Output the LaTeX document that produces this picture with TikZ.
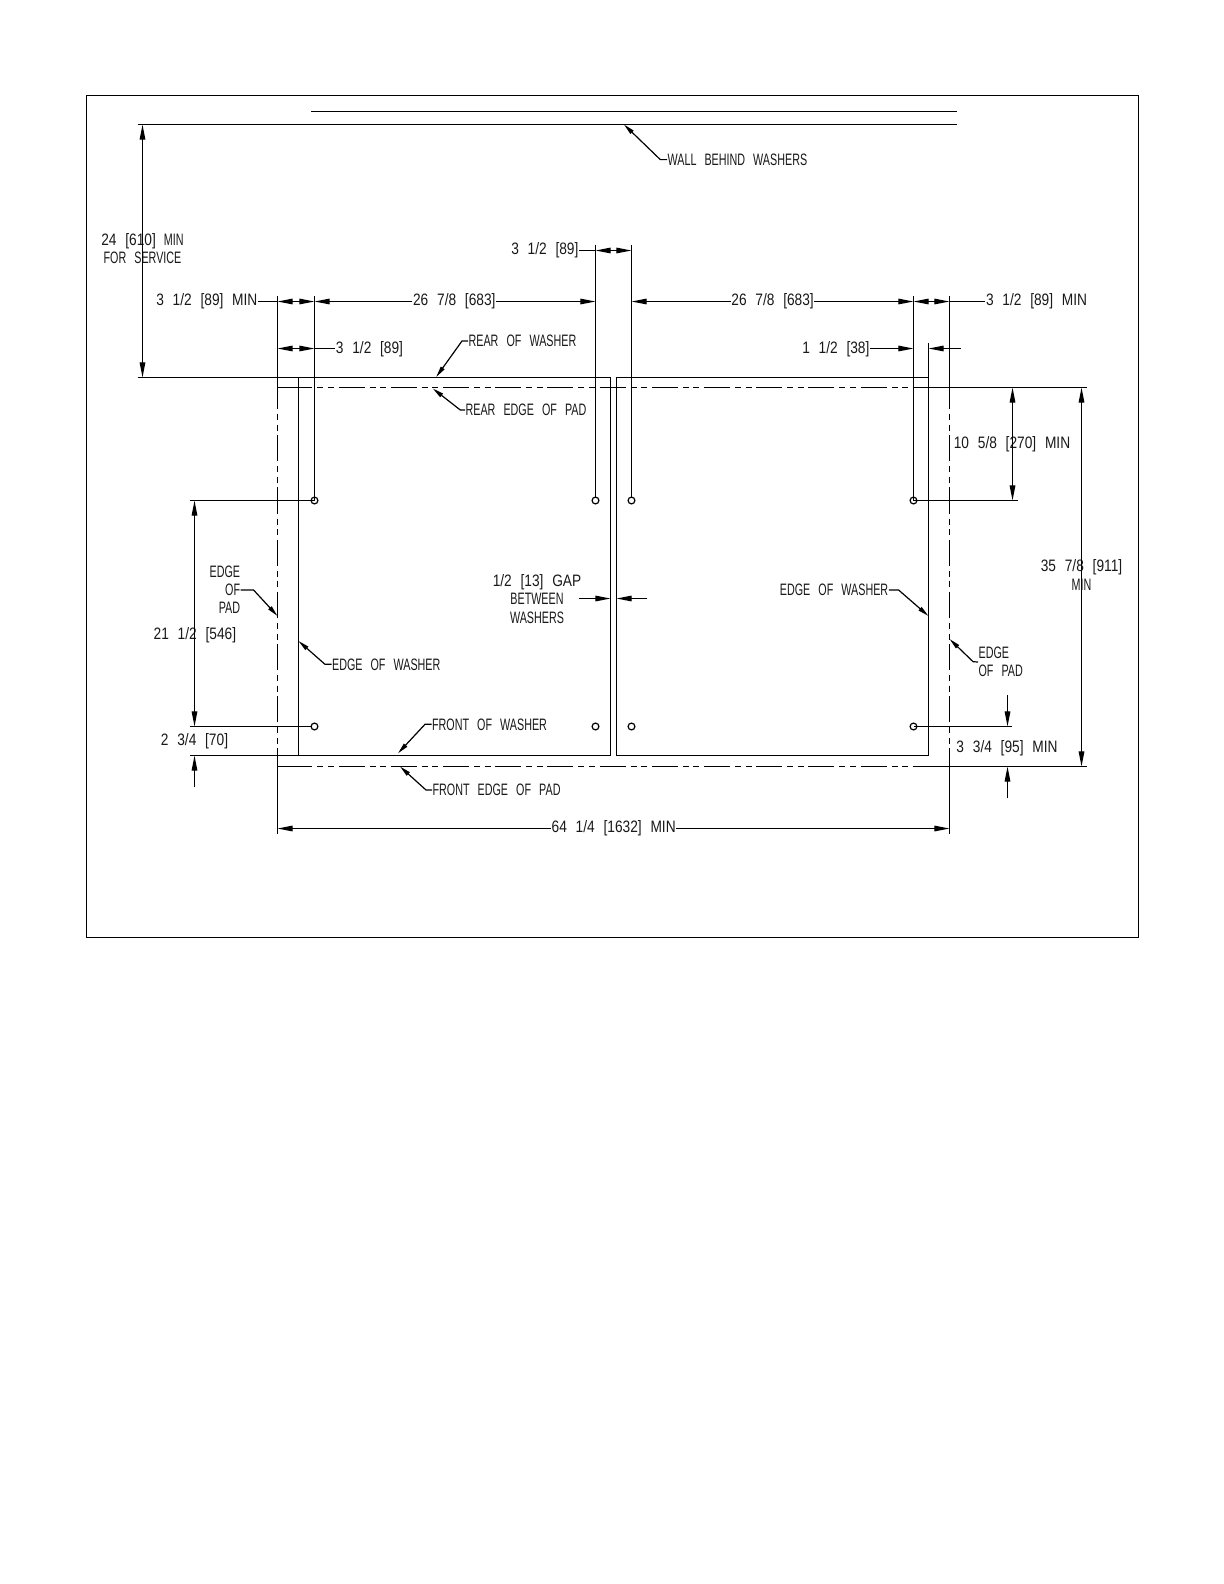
\documentclass[tikz,border=0pt]{standalone}
\usepackage{fontspec}
\setmainfont[FakeStretch=0.65,WordSpace=2.7]{Liberation Sans}
\newfontfamily\dimf[FakeStretch=0.83,WordSpace=2.3]{Liberation Sans}
\usetikzlibrary{arrows.meta}
\tikzset{
    lblm/.style = {inner sep = 0, text = black!90, align = center,
        font = \fontsize{8.3}{9.1}\selectfont},
    lbl/.style = {lblm, text height = 5.9bp, text depth = 0pt},
    dim/.style = {{Triangle[length = 7.6bp, width = 2.8bp]}-{Triangle[length = 7.6bp, width = 2.8bp]}},
    dimend/.style = {-{Triangle[length = 7.6bp, width = 2.8bp]}},
    lead/.style = {{Triangle[length = 5.6bp, width = 2.2bp]}-},
    padline/.style = {dash pattern = on 13.05bp off 2.5bp on 3bp off 2.3bp on 3bp off 2.25bp},
    hole/.style = {draw, circle, inner sep = 0, minimum size = 3.4bp}
}
\begin{document}
\begin{tikzpicture}[x = 0.5bp, y = -0.5bp, line width = 0.6bp]
    \useasboundingbox (0,0) rectangle (1224,1584);
    \draw (86.5,95.5) rectangle (1138.5,937.5);
    % wall
    \coordinate (wallA) at (311,111.5);
    \coordinate (wallB) at (957,111.5);
    \coordinate (wallC) at (137.5,124.5);
    \coordinate (wallD) at (957,124.5);
    \draw (wallA) -- (wallB);
    \draw (wallC) -- (wallD);
    % washers
    \coordinate (rearL) at (137.5,377.5);
    \coordinate (frontL) at (189.5,755.5);
    \coordinate (washAa) at (298.5,377.5);
    \coordinate (washAb) at (610.5,377.5);
    \coordinate (washAc) at (610.5,755.5);
    \coordinate (washAd) at (298.5,755.5);
    \coordinate (washBa) at (616.5,377.5);
    \coordinate (washBb) at (928.5,377.5);
    \coordinate (washBc) at (928.5,755.5);
    \coordinate (washBd) at (616.5,755.5);
    \coordinate (washBt) at (928.5,343);
    \draw (rearL) -- (washAb) -- (washAc) -- (frontL);
    \draw (washAa) -- (washAd);
    \draw (washBt) -- (washBc) -- (washBd) -- (washBa) -- (washBb);
    % pad
    \foreach \py in {387.5, 766.5} {
        \draw (277.5,\py) -- (290,\py);
        \draw [padline] (286.3,\py) -- (913.3,\py);
        \draw (913.3,\py) -- (1086.5,\py);
    }
    \foreach \px in {277.5, 949.5} {
        \draw (\px,296) -- (\px,386);
        \draw [padline] (\px,383) -- (\px,748.4);
        \draw (\px,748.4) -- (\px,833.5);
    }
    % holes
    \foreach \hn/\hx in {a/314.5, b/595.5, c/631.5, d/913.5} {
        \node [hole] (\hn T) at (\hx,500.5) {};
        \node [hole] (\hn B) at (\hx,726.5) {};
    }
    \coordinate (extA) at (314.5,296);
    \coordinate (extB) at (595.5,244.5);
    \coordinate (extC) at (631.5,244.5);
    \coordinate (extD) at (913.5,296);
    \draw (extA) -- (aT.center);
    \draw (extB) -- (bT.north);
    \draw (extC) -- (cT.north);
    \draw (extD) -- (dT.center);
    \coordinate (leftT) at (189.5,500.5);
    \coordinate (leftB) at (189.5,726.5);
    \coordinate (rightT) at (1017.5,500.5);
    \coordinate (rightB) at (1012,726.5);
    \draw (leftT) -- (aT.center);
    \draw (leftB) -- (aB.west);
    \draw (dT.center) -- (rightT);
    \draw (dB.center) -- (rightB);
    % service depth
    \node [lblm] (service) at (142.5,249) {{\dimf 24 [610]} MIN\\FOR SERVICE};
    \draw [dim] (142.5,124.5) -- (142.5,377.5);
    % top row
    \node [lbl, anchor = east] (minL) at (258,300) {\dimf 3 1/2 [89] MIN};
    \draw [dim] (277.5,301.5) -- (314.5,301.5);
    \draw (minL.east |- 0,301.5) -- (277.5,301.5);
    \node [lbl] (spanL) at (454.3,300) {\dimf 26 7/8 [683]};
    \draw [dimend] (spanL.west |- 0,301.5) -- (314.5,301.5);
    \draw [dimend] (spanL.east |- 0,301.5) -- (595.5,301.5);
    \node [lbl, anchor = east] (gapTop) at (579,249) {\dimf 3 1/2 [89]};
    \draw [dim] (595.5,250.5) -- (631.5,250.5);
    \draw (gapTop.east |- 0,250.5) -- (595.5,250.5);
    \node [lbl] (spanR) at (772.6,300) {\dimf 26 7/8 [683]};
    \draw [dimend] (spanR.west |- 0,301.5) -- (631.5,301.5);
    \draw [dimend] (spanR.east |- 0,301.5) -- (913.5,301.5);
    \draw [dim] (913.5,301.5) -- (949.5,301.5);
    \node [lbl, anchor = west] (minR) at (985.4,300) {\dimf 3 1/2 [89] MIN};
    \draw (949.5,301.5) -- (minR.west |- 0,301.5);
    % second row
    \draw [dim] (277.5,348.5) -- (314.5,348.5);
    \node [lbl, anchor = west] (holeL) at (335.3,347.5) {\dimf 3 1/2 [89]};
    \draw (314.5,348.5) -- (holeL.west |- 0,348.5);
    \node [lbl, anchor = east] (sideR) at (870,347.5) {\dimf 1 1/2 [38]};
    \draw [dimend] (sideR.east |- 0,348.5) -- (913.5,348.5);
    \coordinate (sideRend) at (960.8,348.5);
    \draw [dimend] (sideRend) -- (928.5,348.5);
    % leaders
    \node [lbl, anchor = west] (wall) at (667,159.6) {WALL BEHIND WASHERS};
    \coordinate (wallTip) at (624,124.5);
    \draw [lead] (wallTip) -- (660.3,159.6) -- (wall.west);
    \node [lbl, anchor = west] (rearWash) at (468,341) {REAR OF WASHER};
    \coordinate (rearWashTip) at (436.2,377);
    \draw [lead] (rearWashTip) -- (462,341) -- (rearWash.west);
    \node [lbl, anchor = west] (rearPad) at (465,410) {REAR EDGE OF PAD};
    \coordinate (rearPadTip) at (432.8,388.5);
    \draw [lead] (rearPadTip) -- (460.3,410) -- (rearPad.west);
    \node [lblm, anchor = east, align = right] (padEdgeL) at (240.7,590) {EDGE\\OF\\PAD};
    \coordinate (padEdgeLTip) at (277.5,616);
    \draw [lead] (padEdgeLTip) -- (253.6,590) -- (padEdgeL.east);
    \node [lbl, anchor = west] (washEdgeL) at (331.5,664.3) {EDGE OF WASHER};
    \coordinate (washEdgeLTip) at (298.5,641);
    \draw [lead] (washEdgeLTip) -- (325,664.3) -- (washEdgeL.west);
    \node [lbl, anchor = west] (frontWash) at (431.5,724.3) {FRONT OF WASHER};
    \coordinate (frontWashTip) at (398,753.3);
    \draw [lead] (frontWashTip) -- (425,724.3) -- (frontWash.west);
    \node [lbl, anchor = west] (frontPad) at (432,790) {FRONT EDGE OF PAD};
    \coordinate (frontPadTip) at (400,766.5);
    \draw [lead] (frontPadTip) -- (426,790) -- (frontPad.west);
    \node [lbl, anchor = east] (washEdgeR) at (888.8,590) {EDGE OF WASHER};
    \coordinate (washEdgeRTip) at (928.5,616);
    \draw [lead] (washEdgeRTip) -- (898.6,590) -- (washEdgeR.east);
    \node [lblm, anchor = west, align = left] (padEdgeR) at (978,662) {EDGE\\OF PAD};
    \coordinate (padEdgeRTip) at (949.5,639);
    \draw [lead] (padEdgeRTip) -- (973.1,661.7) -- (padEdgeR.west);
    % gap
    \node [lblm] (gap) at (537,599) {{\dimf 1/2 [13] GAP}\\BETWEEN\\WASHERS};
    \coordinate (gapL) at (579,598.5);
    \coordinate (gapR) at (647.3,598.5);
    \draw [dimend] (gapL) -- (610.5,598.5);
    \draw [dimend] (gapR) -- (616.5,598.5);
    % left dimensions
    \node [lbl] (holeSpan) at (194.9,634) {\dimf 21 1/2 [546]};
    \draw [dim] (194.5,500.5) -- (194.5,726.5);
    \node [lbl] (holeFront) at (194.5,740) {\dimf 2 3/4 [70]};
    \coordinate (holeFrontEnd) at (194.5,787);
    \draw [dimend] (holeFrontEnd) -- (194.5,755.5);
    % right dimensions
    \node [lbl] (rearHole) at (1012,442.3) {\dimf 10 5/8 [270] MIN};
    \draw [dim] (1012.5,387.5) -- (1012.5,500.5);
    \node [lblm] (padDepth) at (1081.5,575) {{\dimf 35 7/8 [911]}\\MIN};
    \draw [dim] (1081.5,387.5) -- (1081.5,766.5);
    \node [lbl] (frontHole) at (1007,746.7) {\dimf 3 3/4 [95] MIN};
    \coordinate (frontHoleT) at (1007.5,695);
    \coordinate (frontHoleB) at (1007.5,798);
    \draw [dimend] (frontHoleT) -- (1007.5,726.5);
    \draw [dimend] (frontHoleB) -- (1007.5,766.5);
    % overall width
    \node [lbl] (overall) at (613.7,827) {\dimf 64 1/4 [1632] MIN};
    \draw [dimend] (overall.west |- 0,828.5) -- (277.5,828.5);
    \draw [dimend] (overall.east |- 0,828.5) -- (949.5,828.5);
\end{tikzpicture}
\end{document}
